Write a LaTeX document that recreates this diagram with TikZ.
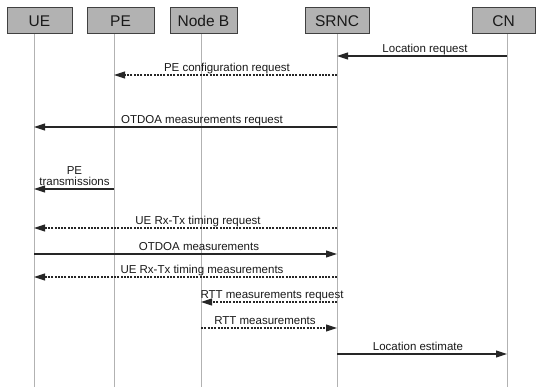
\documentclass[tikz,border=0pt]{standalone}
\usepackage{fontspec}
\setmainfont{Liberation Sans}
\usetikzlibrary{arrows.meta}
\begin{document}
\begin{tikzpicture}[x=1pt,y=-1pt,
 actor/.style={draw=black!75, line width=1pt, fill=black!30, inner sep=0pt, minimum height=26pt, font=\fontsize{15.5}{17}\selectfont, text=black!90},
 life/.style={draw=black!30, line width=0.7pt},
 msg/.style={draw=black!85, line width=1.1pt, -{Triangle[length=11pt,width=7pt]}},
 dmsg/.style={msg, dash pattern=on 2pt off 1.3pt},
 lbl/.style={font=\fontsize{11.5}{11}\selectfont, text=black!90, anchor=base, inner sep=0pt, align=center}]
\useasboundingbox (0,0) rectangle (536,387);
% actors
\node[actor, minimum width=65pt] (UE) at (39.5,21) {UE};
\node[actor, minimum width=67pt] (PE) at (120.5,21) {PE};
\node[actor, minimum width=67pt] (NB) at (203.5,21) {Node B};
\node[actor, minimum width=64pt] (SRNC) at (337,21) {SRNC};
\node[actor, minimum width=63pt] (CN) at (503.5,21) {CN};
% lifelines
\coordinate (ueL) at (34,34);
\coordinate (peL) at (114,34);
\coordinate (nbL) at (201,34);
\coordinate (srL) at (337,34);
\coordinate (cnL) at (507,34);
\coordinate (bot) at (0,387);
\foreach \l in {ueL,peL,nbL,srL,cnL}{\draw[life] (\l) -- (\l |- bot);}
% message levels
\coordinate (y1) at (0,56);
\coordinate (y2) at (0,75);
\coordinate (y3) at (0,127);
\coordinate (y4) at (0,189);
\coordinate (y5) at (0,228);
\coordinate (y6) at (0,254);
\coordinate (y7) at (0,277);
\coordinate (y8) at (0,302);
\coordinate (y9) at (0,328);
\coordinate (y10) at (0,354);
% messages
\draw[msg] (cnL |- y1) -- (srL |- y1);
\node[lbl] (l1) at (425,53) {Location request};
\draw[dmsg] (srL |- y2) -- (peL |- y2);
\node[lbl] (l2) at (227,72) {PE configuration request};
\draw[msg] (srL |- y3) -- (ueL |- y3);
\node[lbl] (l3) at (202,124) {OTDOA measurements request};
\draw[msg] (peL |- y4) -- (ueL |- y4);
\node[lbl, anchor=south] (l4) at (74.5,186) {PE\\transmissions};
\draw[dmsg] (srL |- y5) -- (ueL |- y5);
\node[lbl] (l5) at (198,225) {UE Rx-Tx timing request};
\draw[msg] (ueL |- y6) -- (srL |- y6);
\node[lbl] (l6) at (199,251) {OTDOA measurements};
\draw[dmsg] (srL |- y7) -- (ueL |- y7);
\node[lbl] (l7) at (202,274) {UE Rx-Tx timing measurements};
\draw[dmsg] (srL |- y8) -- (nbL |- y8);
\node[lbl] (l8) at (272,299) {RTT measurements request};
\draw[dmsg] (nbL |- y9) -- (srL |- y9);
\node[lbl] (l9) at (265,325) {RTT measurements};
\draw[msg] (srL |- y10) -- (cnL |- y10);
\node[lbl] (l10) at (418,351) {Location estimate};
\end{tikzpicture}
\end{document}
